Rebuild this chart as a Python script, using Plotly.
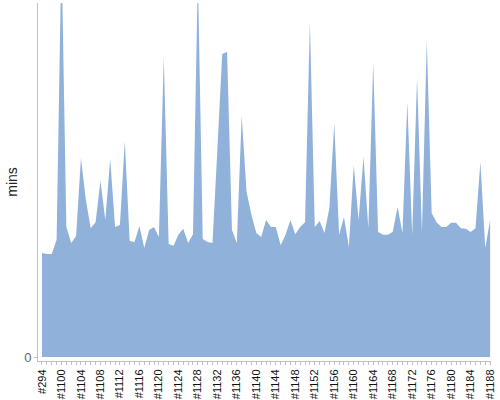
import plotly.graph_objects as go

builds = ["#294", "#1097", "#1098", "#1099"] + ["#%d" % n for n in range(1100, 1189)]

mins = [29.4, 29.1, 29.1, 33.1, 115.0, 36.7, 32.2, 34.2, 56.2, 44.4,
        36.4, 38.1, 49.7, 38.7, 55.9, 36.7, 37.3, 61.0, 32.8, 32.5,
        37.0, 30.8, 35.9, 36.7, 33.9, 84.7, 31.9, 31.4, 34.5, 36.2,
        32.2, 34.7, 108.0, 33.3, 32.5, 32.2, 58.5, 85.6, 86.2, 35.9,
        32.2, 68.1, 46.6, 40.1, 35.0, 33.9, 38.7, 36.7, 36.7, 31.6,
        34.5, 38.7, 34.7, 36.7, 38.1, 94.6, 36.7, 38.4, 35.0, 42.1,
        66.1, 34.5, 39.5, 31.1, 54.2, 38.7, 56.5, 36.4, 83.1, 35.3,
        34.5, 34.5, 35.3, 42.4, 35.0, 72.0, 34.5, 78.8, 35.3, 89.5,
        40.7, 38.1, 36.7, 36.7, 37.9, 37.9, 36.4, 36.2, 35.3, 36.4,
        55.1, 30.8, 38.7]

tick_text = [b if i % 4 == 0 else "" for i, b in enumerate(builds)]

fig = go.Figure()
fig.add_trace(go.Scatter(
    x=builds, y=mins, mode="lines", fill="tozeroy",
    line=dict(color="#8FB1DA", width=0),
    fillcolor="#8FB1DA", hoverinfo="x+y",
))

fig.update_layout(
    width=500, height=400,
    margin=dict(l=38, r=9, t=3, b=39),
    paper_bgcolor="white", plot_bgcolor="white",
    showlegend=False,
    font=dict(family="Liberation Sans, Arial, sans-serif", color="#222"),
    xaxis=dict(
        type="category", categoryorder="array", categoryarray=builds,
        range=[-0.82, 92.18], automargin=False,
        tickmode="array", tickvals=builds, ticktext=tick_text,
        tickangle=-90, tickfont=dict(size=11, color="#111"),
        ticks="outside", ticklen=3, tickcolor="#C0C0C0", tickwidth=1,
        showline=True, linecolor="#C0C0C0", linewidth=1,
        showgrid=False, zeroline=False, fixedrange=True,
    ),
    yaxis=dict(
        range=[-1.13, 100], automargin=False,
        tickmode="array", tickvals=[0], ticktext=["0"],
        tickfont=dict(size=13, color="#666"),
        ticks="outside", ticklen=3, tickcolor="#C0C0C0",
        showline=True, linecolor="#C0C0C0", linewidth=1,
        showgrid=False, zeroline=False,
        title=dict(text="mins", font=dict(size=14, color="#222"), standoff=3),
    ),
)

fig.write_html("out.html",
               config={"displayModeBar": False},
               post_script="document.body.style.margin='0';document.body.style.overflow='hidden';")
